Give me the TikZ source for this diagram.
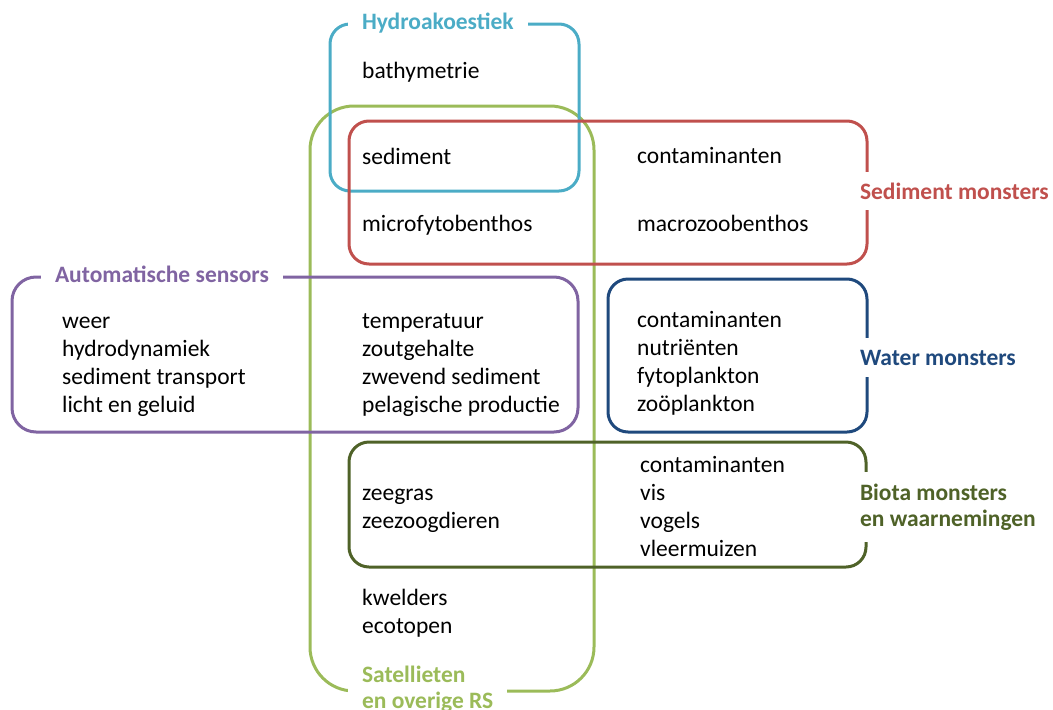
\documentclass[tikz,border=0pt]{standalone}
\usepackage{fontspec}
\setmainfont{Carlito}

\definecolor{hydroblue}{HTML}{4BACC6}
\definecolor{satgreen}{HTML}{9BBB59}
\definecolor{sedred}{HTML}{C0504D}
\definecolor{autopurple}{HTML}{8064A2}
\definecolor{waterblue}{HTML}{1F497D}
\definecolor{biotagreen}{HTML}{4F6228}

\tikzset{
  group/.style={line width=3pt, rounded corners=20pt},
  item/.style={anchor=base west, align=left, inner sep=0pt, font=\fontsize{23.5}{28}\selectfont},
  title/.style={anchor=base west, align=left, fill=white, inner xsep=14pt, inner ysep=2pt, outer sep=0pt,
    font=\bfseries\fontsize{23.5}{26}\selectfont},
}

\begin{document}
\begin{tikzpicture}[x=1pt,y=-1pt]
            \useasboundingbox (0,0) rectangle (1053,710);

            \draw[group, satgreen, rounded corners=44pt] (310,106) rectangle (594,691);
            \draw[group, hydroblue] (330,24) rectangle (579,191);
            \draw[group, sedred] (349,121) rectangle (867,264);
            \draw[group, autopurple, rounded corners=24pt] (12,277) rectangle (578,432);
            \draw[group, waterblue] (608,279) rectangle (867,432);
            \draw[group, biotagreen] (349,442) rectangle (866,567);

            \node[title, text=hydroblue] (hydro) at (348,29) {Hydroakoestiek};
            \node[title, text=sedred, inner ysep=11pt] (sed) at (846,199) {Sediment monsters};
            \node[title, text=autopurple] (auto) at (41,282) {Automatische sensors};
            \node[title, text=waterblue, inner ysep=12pt] (water) at (846,365) {Water monsters};
            \node[title, text=biotagreen, inner ysep=12pt] (biota) at (846,526) {Biota monsters\\en waarnemingen};
            \node[title, text=satgreen] (sat) at (348,708) {Satellieten\\en overige RS};

            \node[item] (bathy) at (362,78) {bathymetrie};
            \node[item] (sedim) at (362,164) {sediment};
            \node[item] (sedcont) at (637,163) {contaminanten};
            \node[item] (micro) at (362,231) {microfytobenthos};
            \node[item] (macro) at (637,231) {macrozoobenthos};
            \node[item] (weer) at (62,412) {weer\\hydrodynamiek\\sediment transport\\licht en geluid};
            \node[item] (temp) at (362,412) {temperatuur\\zoutgehalte\\zwevend sediment\\pelagische productie};
            \node[item] (watcont) at (637,411) {contaminanten\\nutriënten\\fytoplankton\\zoöplankton};
            \node[item] (zeegras) at (362,528) {zeegras\\zeezoogdieren};
            \node[item] (biocont) at (640,556) {contaminanten\\vis\\vogels\\vleermuizen};
            \node[item] (kwelders) at (362,633) {kwelders\\ecotopen};
        \end{tikzpicture}
\end{document}
